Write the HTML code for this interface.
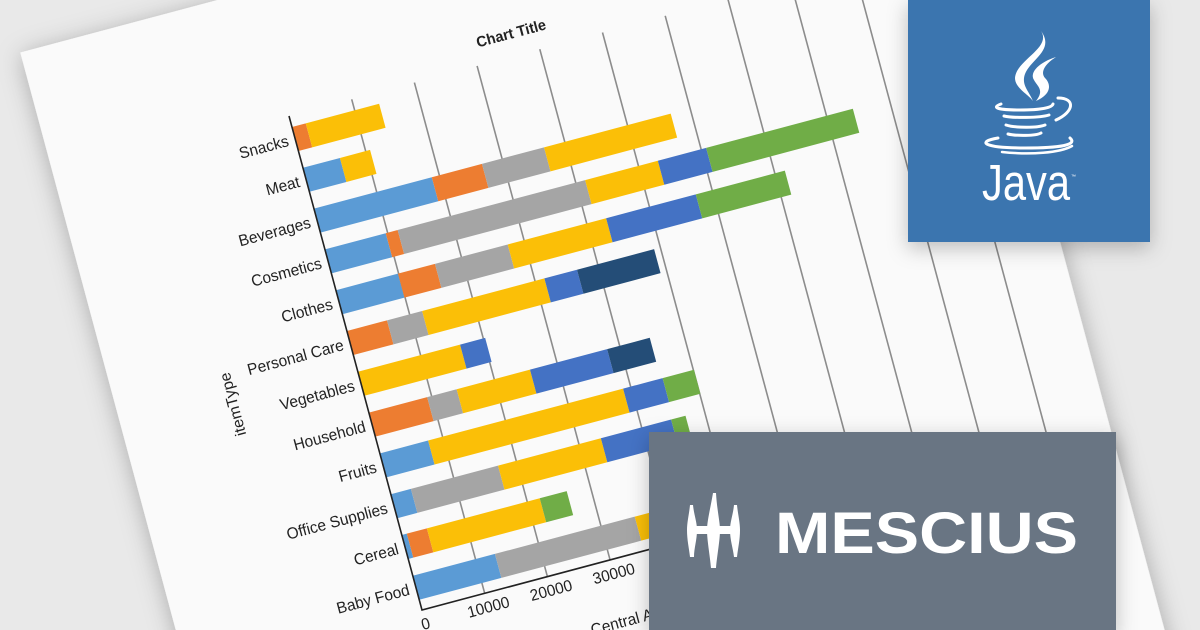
<!DOCTYPE html>
<html><head><meta charset="utf-8"><style>
html,body{margin:0;padding:0;background:#e9e9e9;width:1200px;height:630px;overflow:hidden;}
svg{display:block;overflow:hidden;}
text{font-family:"Liberation Sans",Arial,sans-serif;}
</style></head><body>
<svg width="1200" height="630" viewBox="0 0 1200 630" xmlns="http://www.w3.org/2000/svg">
<defs>
<clipPath id="cl"><rect width="1200" height="630"/></clipPath>
<filter id="sh" x="-20%" y="-20%" width="140%" height="140%">
<feDropShadow dx="0" dy="4" stdDeviation="12" flood-color="#000" flood-opacity="0.28"/>
</filter>
<filter id="sh2" x="-20%" y="-20%" width="140%" height="150%">
<feDropShadow dx="0" dy="6" stdDeviation="10" flood-color="#000" flood-opacity="0.25"/>
</filter>
</defs>
<rect width="1200" height="630" fill="#e9e9e9"/>
<g clip-path="url(#cl)">
<g transform="matrix(0.9661,-0.2573,0.2692,1,289,116)">
<rect x="-243" y="-126" width="955" height="900" fill="#fafafa" filter="url(#sh)"/>
<g stroke="#8c8c8c" stroke-width="1.6">
<line x1="64.9" y1="0" x2="64.9" y2="494"/>
<line x1="129.8" y1="0" x2="129.8" y2="494"/>
<line x1="194.7" y1="0" x2="194.7" y2="494"/>
<line x1="259.6" y1="0" x2="259.6" y2="494"/>
<line x1="324.5" y1="0" x2="324.5" y2="494"/>
<line x1="389.4" y1="0" x2="389.4" y2="494"/>
<line x1="454.3" y1="0" x2="454.3" y2="494"/>
<line x1="519.2" y1="0" x2="519.2" y2="494"/>
<line x1="584.1" y1="0" x2="584.1" y2="494"/>
<line x1="649" y1="0" x2="649" y2="494"/>
</g>
<g transform="scale(0.649,1)">
<rect x="0" y="11" width="22" height="24" fill="#ed7d31"/>
<rect x="22" y="11" width="117" height="24" fill="#fbbf07"/>
<rect x="0" y="51.8" width="59" height="24" fill="#5b9bd5"/>
<rect x="59" y="51.8" width="48" height="24" fill="#fbbf07"/>
<rect x="0" y="92.6" width="188" height="24" fill="#5b9bd5"/>
<rect x="188" y="92.6" width="80" height="24" fill="#ed7d31"/>
<rect x="268" y="92.6" width="99" height="24" fill="#a5a5a5"/>
<rect x="367" y="92.6" width="202" height="24" fill="#fbbf07"/>
<rect x="0" y="133.4" width="97" height="24" fill="#5b9bd5"/>
<rect x="97" y="133.4" width="19" height="24" fill="#ed7d31"/>
<rect x="116" y="133.4" width="299" height="24" fill="#a5a5a5"/>
<rect x="415" y="133.4" width="116" height="24" fill="#fbbf07"/>
<rect x="531" y="133.4" width="77" height="24" fill="#4472c4"/>
<rect x="608" y="133.4" width="234" height="24" fill="#70ad47"/>
<rect x="0" y="174.2" width="99" height="24" fill="#5b9bd5"/>
<rect x="99" y="174.2" width="59" height="24" fill="#ed7d31"/>
<rect x="158" y="174.2" width="116" height="24" fill="#a5a5a5"/>
<rect x="274" y="174.2" width="157" height="24" fill="#fbbf07"/>
<rect x="431" y="174.2" width="143" height="24" fill="#4472c4"/>
<rect x="574" y="174.2" width="142" height="24" fill="#70ad47"/>
<rect x="0" y="215" width="64" height="24" fill="#ed7d31"/>
<rect x="64" y="215" width="56" height="24" fill="#a5a5a5"/>
<rect x="120" y="215" width="195" height="24" fill="#fbbf07"/>
<rect x="315" y="215" width="52" height="24" fill="#4472c4"/>
<rect x="367" y="215" width="123" height="24" fill="#244d77"/>
<rect x="0" y="255.8" width="163" height="24" fill="#fbbf07"/>
<rect x="163" y="255.8" width="40" height="24" fill="#4472c4"/>
<rect x="0" y="296.6" width="93" height="24" fill="#ed7d31"/>
<rect x="93" y="296.6" width="47" height="24" fill="#a5a5a5"/>
<rect x="140" y="296.6" width="117" height="24" fill="#fbbf07"/>
<rect x="257" y="296.6" width="123" height="24" fill="#4472c4"/>
<rect x="380" y="296.6" width="68" height="24" fill="#244d77"/>
<rect x="0" y="337.4" width="77" height="24" fill="#5b9bd5"/>
<rect x="77" y="337.4" width="311" height="24" fill="#fbbf07"/>
<rect x="388" y="337.4" width="63" height="24" fill="#4472c4"/>
<rect x="451" y="337.4" width="50" height="24" fill="#70ad47"/>
<rect x="0" y="378.2" width="32" height="24" fill="#5b9bd5"/>
<rect x="32" y="378.2" width="139" height="24" fill="#a5a5a5"/>
<rect x="171" y="378.2" width="164" height="24" fill="#fbbf07"/>
<rect x="335" y="378.2" width="112" height="24" fill="#4472c4"/>
<rect x="447" y="378.2" width="23" height="24" fill="#70ad47"/>
<rect x="0" y="419" width="8" height="24" fill="#5b9bd5"/>
<rect x="8" y="419" width="32" height="24" fill="#ed7d31"/>
<rect x="40" y="419" width="180" height="24" fill="#fbbf07"/>
<rect x="220" y="419" width="43" height="24" fill="#70ad47"/>
<rect x="0" y="459.8" width="131" height="24" fill="#5b9bd5"/>
<rect x="131" y="459.8" width="223" height="24" fill="#a5a5a5"/>
<rect x="354" y="459.8" width="76" height="24" fill="#fbbf07"/>
</g>
<path d="M0,0 V494 H450" fill="none" stroke="#222" stroke-width="1.6"/>
<text x="236" y="-17" text-anchor="middle" font-size="14.5" font-weight="bold" fill="#222">Chart Title</text>
<g font-size="15.5" fill="#222" text-anchor="end">
<text x="-7" y="28">Snacks</text>
<text x="-7" y="68.8">Meat</text>
<text x="-7" y="109.6">Beverages</text>
<text x="-7" y="150.4">Cosmetics</text>
<text x="-7" y="191.2">Clothes</text>
<text x="-7" y="232">Personal Care</text>
<text x="-7" y="272.8">Vegetables</text>
<text x="-7" y="313.6">Household</text>
<text x="-7" y="354.4">Fruits</text>
<text x="-7" y="395.2">Office Supplies</text>
<text x="-7" y="436">Cereal</text>
<text x="-7" y="476.8">Baby Food</text>
</g>
<g font-size="15.5" fill="#222" text-anchor="middle">
<text x="0" y="513">0</text>
<text x="64.9" y="513">10000</text>
<text x="129.8" y="513">20000</text>
<text x="194.7" y="513">30000</text>
<text x="259.6" y="513">40000</text>
<text x="324.5" y="513">50000</text>
</g>
<text x="158" y="560" font-size="15.5" fill="#222">Central Amount</text>
<text transform="translate(-124,255) rotate(-90)" text-anchor="middle" font-size="15.5" fill="#222">itemType</text>
</g>
</g>
<rect x="908" y="0" width="242" height="242" fill="#3a75af" filter="url(#sh2)"/>
<g fill="#fff">
<path d="M1041,31 C1052,48 1016,60 1015,78 C1015,88 1028,94 1033,101 C1029,91 1021,85 1025,74 C1031,59 1055,50 1041,31Z"/>
<path d="M1056,57 C1040,62 1029,72 1034,80 C1037,86 1045,90 1036,101 C1052,94 1051,84 1045,78 C1040,72 1045,64 1056,57Z"/>
</g>
<g fill="none" stroke="#fff" stroke-linecap="round">
<path d="M1001,104 C990,108 1000,110 1020,110 C1040,110 1052,108 1053,104" stroke-width="3"/>
<path d="M1058,98 C1076,98 1074,112 1056,120" stroke-width="3"/>
<path d="M1004,116 C1012,118 1040,118 1049,115" stroke-width="3"/>
<path d="M1006,125 C1015,128 1038,128 1045,125" stroke-width="3"/>
<path d="M1008,134 C1016,136 1036,136 1041,133" stroke-width="3"/>
<path d="M998,138 C975,142 985,148 1025,148 C1060,148 1078,145 1070,138" stroke-width="3"/>
<path d="M1002,152 C1030,155 1060,153 1072,146" stroke-width="2.5"/>
</g>
<text x="982" y="200" font-size="51" fill="#fff" textLength="88" lengthAdjust="spacingAndGlyphs">Java</text>
<text x="1071" y="178" font-size="5" fill="#fff">™</text>
<rect x="649" y="432" width="467" height="200" fill="#697583" filter="url(#sh2)"/>
<g fill="#fff">
<path d="M713,493 L716,493 C717,510 720,522 720,530 C720,540 717,556 716,568 L711,568 C710,556 707,540 707,530 C707,522 710,510 713,493Z"/>
<path d="M690,505 L693,505 C694,515 697,522 697,530 C697,540 694,548 694,557 L690,557 C689,548 687,540 687,530 C687,522 689,515 690,505Z"/>
<path d="M734,505 L737,505 C738,515 740,522 740,530 C740,540 738,548 737,557 L734,557 C733,548 730,540 730,530 C730,522 733,515 734,505Z"/>
<rect x="693" y="526" width="42" height="8"/>
</g>
<text x="775" y="553" font-size="58" font-weight="bold" fill="#fff" textLength="303" lengthAdjust="spacingAndGlyphs">MESCIUS</text>
</svg>
</body></html>
